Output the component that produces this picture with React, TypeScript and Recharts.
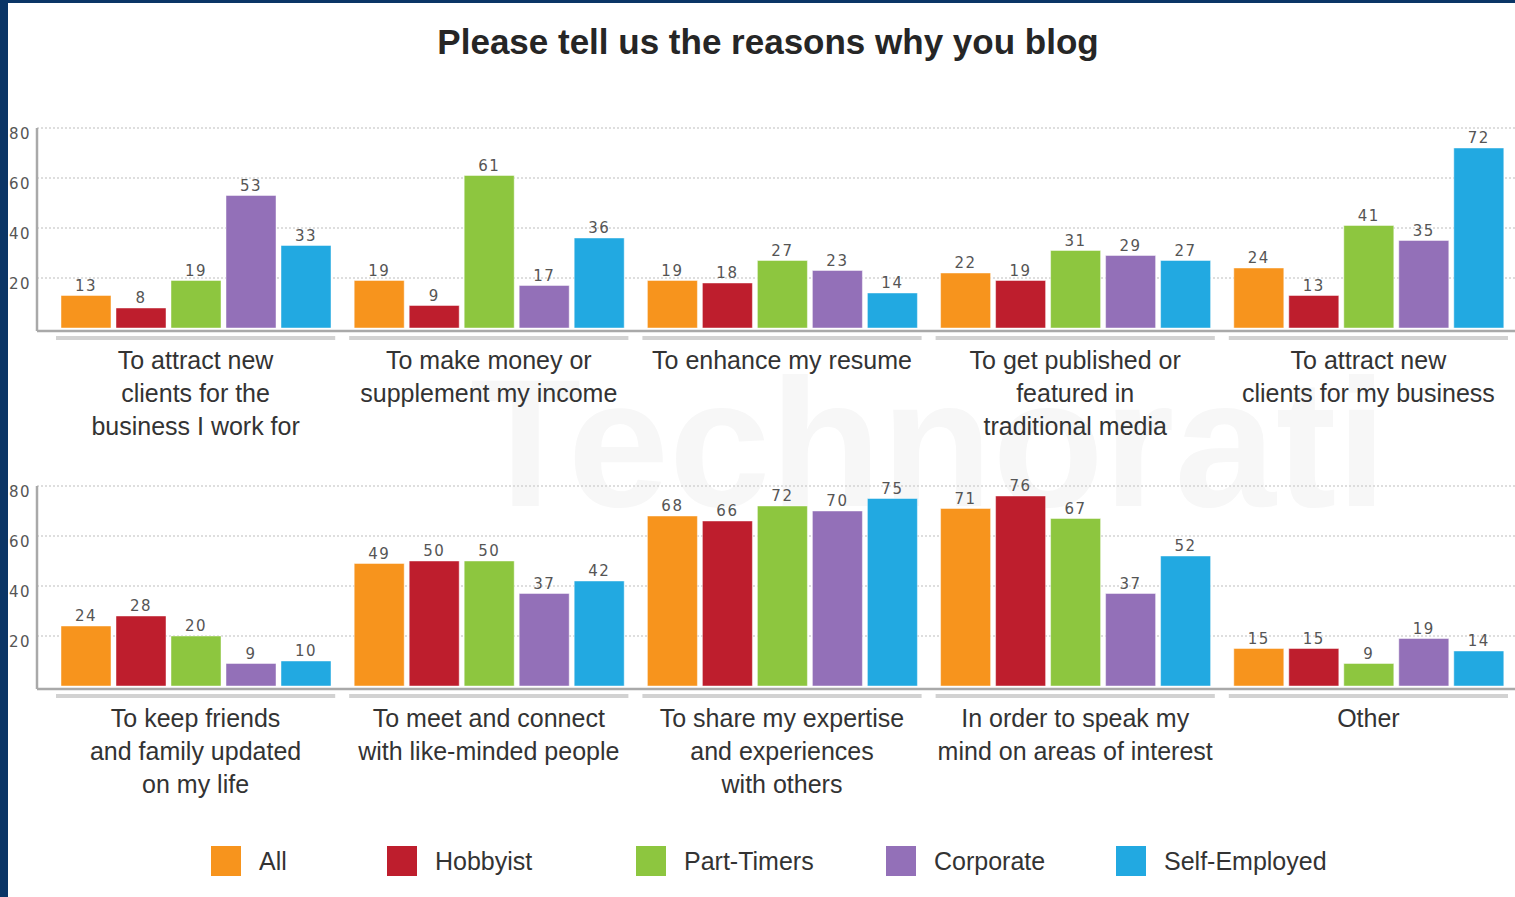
import React from 'react';
import {
  BarChart,
  Bar,
  XAxis,
  YAxis,
  CartesianGrid,
  LabelList,
} from 'recharts';

const TITLE = 'Please tell us the reasons why you blog';

// category labels, one array of lines per category
const topCategories = [
  ['To attract new', 'clients for the', 'business I work for'],
  ['To make money or', 'supplement my income'],
  ['To enhance my resume'],
  ['To get published or', 'featured in', 'traditional media'],
  ['To attract new', 'clients for my business'],
];
const bottomCategories = [
  ['To keep friends', 'and family updated', 'on my life'],
  ['To meet and connect', 'with like-minded people'],
  ['To share my expertise', 'and experiences', 'with others'],
  ['In order to speak my', 'mind on areas of interest'],
  ['Other'],
];

const seriesNames = ['All', 'Hobbyist', 'Part-Timers', 'Corporate', 'Self-Employed'];
const seriesColors = ['#f7941d', '#be1e2d', '#8dc63f', '#9370b8', '#22a9e1'];

// values: top row of five categories, then bottom row
const allValues = [13, 19, 19, 22, 24, 24, 49, 68, 71, 15];
const hobbyistValues = [8, 9, 18, 19, 13, 28, 50, 66, 76, 15];
const partTimerValues = [19, 61, 27, 31, 41, 20, 50, 72, 67, 9];
const corporateValues = [53, 17, 23, 29, 35, 9, 37, 70, 37, 19];
const selfEmployedValues = [33, 36, 14, 27, 72, 10, 42, 75, 52, 14];

const yTicks = [20, 40, 60, 80];

const seriesValues = [allValues, hobbyistValues, partTimerValues, corporateValues, selfEmployedValues];

// legend column widths (px) in the original layout
const legendWidths = [176, 249, 250, 230, 220];

function buildRows(categories: string[][], start: number) {
  return categories.map((lines, i) => {
    const row: Record<string, string | number> = { name: lines.join('\n') };
    seriesNames.forEach((s, k) => {
      row[s] = seriesValues[k][start + i];
    });
    return row;
  });
}

const topData = buildRows(topCategories, 0);
const bottomData = buildRows(bottomCategories, 5);

const labelFont = '"Liberation Sans", Arial, sans-serif';
const pixelFont = '"DejaVu Sans", Verdana, sans-serif';

function CategoryTick(props: any) {
  const { x, y, payload } = props;
  const half = payload?.offset ?? 146.6;
  const lines = String(payload.value).split('\n');
  return (
    <g>
      <rect x={x - half + 7} y={y + 5} width={half * 2 - 14} height={4} fill="#d2d2d2" />
      <text
        x={x}
        y={y + 38}
        textAnchor="middle"
        fill="#333"
        style={{ fontFamily: labelFont, fontSize: 25 }}
      >
        {lines.map((l, i) => (
          <tspan key={i} x={x} dy={i === 0 ? 0 : 33}>
            {l}
          </tspan>
        ))}
      </text>
    </g>
  );
}

function ValueTick(props: any) {
  const { x, y, payload } = props;
  return (
    <text
      x={x}
      y={y + 6}
      textAnchor="end"
      dominantBaseline="central"
      fill="#555"
      style={{ fontFamily: pixelFont, fontSize: 15, letterSpacing: 1.5 }}
    >
      {payload.value}
    </text>
  );
}

function Panel({ data }: { data: Record<string, string | number>[] }) {
  return (
    <BarChart
      width={1515}
      height={360}
      data={data}
      margin={{ top: 28, right: 0, bottom: 9, left: 0 }}
      barSize={50}
      barGap={5}
    >
      <CartesianGrid
        vertical={false}
        stroke="#d4d4d4"
        strokeDasharray="2 2"
        strokeWidth={1.5}
      />
      <XAxis
        dataKey="name"
        interval={0}
        height={120}
        padding={{ left: 12, right: 0 }}
        axisLine={{ stroke: '#a9a9a9', strokeWidth: 2.5 }}
        tickLine={false}
        tickSize={0}
        tickMargin={0}
        tick={<CategoryTick />}
      />
      <YAxis
        width={37}
        domain={[-1.2, 80]}
        ticks={yTicks}
        allowDataOverflow
        axisLine={{ stroke: '#a9a9a9', strokeWidth: 2.5 }}
        tickLine={false}
        tickSize={0}
        tickMargin={6}
        tick={<ValueTick />}
      />
      {seriesNames.map((s, k) => (
        <Bar
          key={s}
          dataKey={s}
          fill={seriesColors[k]}
          stroke="rgba(255,255,255,0.45)"
          strokeWidth={1}
          isAnimationActive={false}
        >
          <LabelList
            dataKey={s}
            position="top"
            offset={5}
            fill="#555"
            style={{ fontFamily: pixelFont, fontSize: 15, letterSpacing: 1.5 }}
          />
        </Bar>
      ))}
    </BarChart>
  );
}

function Legend() {
  return (
    <div
      style={{
        position: 'absolute',
        top: 846,
        left: 211,
        display: 'flex',
        fontFamily: labelFont,
        fontSize: 25,
        color: '#333',
      }}
    >
      {seriesNames.map((s, k) => (
        <div
          key={s}
          style={{ display: 'flex', alignItems: 'center', height: 30, width: legendWidths[k] }}
        >
          <span
            style={{
              width: 30,
              height: 30,
              background: seriesColors[k],
              display: 'inline-block',
              marginRight: 18,
              flex: 'none',
            }}
          />
          <span style={{ whiteSpace: 'nowrap' }}>{s}</span>
        </div>
      ))}
    </div>
  );
}

export default function App() {
  return (
    <div
      style={{
        position: 'fixed',
        left: 0,
        top: 0,
        width: 1515,
        height: 897,
        background: '#fff',
        overflow: 'hidden',
      }}
    >
      <div
        style={{
          position: 'absolute',
          left: 470,
          top: 352,
          fontFamily: labelFont,
          fontWeight: 700,
          fontSize: 182,
          color: '#f7f7f7',
          lineHeight: 1,
          whiteSpace: 'nowrap',
        }}
      >
        Technorati
      </div>
      <div
        style={{
          position: 'absolute',
          top: 20,
          left: 21,
          right: 0,
          textAlign: 'center',
          fontFamily: labelFont,
          fontWeight: 700,
          fontSize: 35,
          color: '#262626',
          lineHeight: '44px',
        }}
      >
        {TITLE}
      </div>
      <div style={{ position: 'absolute', left: 0, top: 100 }}>
        <Panel data={topData} />
      </div>
      <div style={{ position: 'absolute', left: 0, top: 458 }}>
        <Panel data={bottomData} />
      </div>
      <Legend />
      <div style={{ position: 'absolute', left: 0, top: 0, width: 8, height: 897, background: '#0a3566' }} />
      <div style={{ position: 'absolute', left: 0, top: 0, width: 1515, height: 3, background: '#0a3566' }} />
    </div>
  );
}
